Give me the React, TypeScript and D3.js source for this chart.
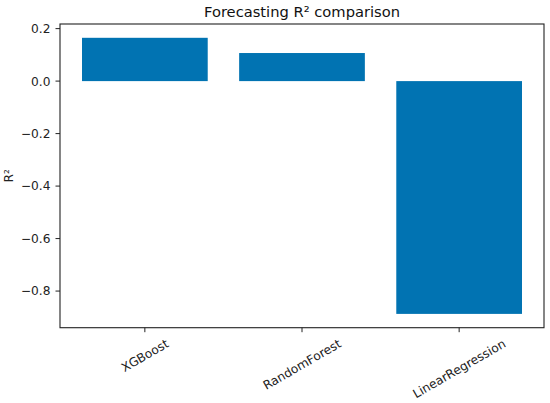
import * as d3 from "d3";

const WIDTH = 550;
const HEIGHT = 403;
const MARGIN = { top: 24, right: 6, bottom: 75.3, left: 60 };

const models = ["XGBoost", "RandomForest", "LinearRegression"];
const r2Values = [0.165, 0.107, -0.887];
const yTicks = [0.2, 0.0, -0.2, -0.4, -0.6, -0.8];

const BAR_COLOR = "#0173b2";
const FONT = "DejaVu Sans, sans-serif";
const TICK_SIZE = 12.2;

const measure = (text: string, size: number) => {
  const ctx = document.createElement("canvas").getContext("2d");
  if (!ctx) return text.length * size * 0.6;
  ctx.font = `${size}px DejaVu Sans`;
  return ctx.measureText(text).width;
};

const fmt = (v: number) => d3.format(".1f")(v).replace("-", "\u2212");

export default function App() {
  const boundsWidth = WIDTH - MARGIN.left - MARGIN.right;
  const boundsHeight = HEIGHT - MARGIN.top - MARGIN.bottom;

  // matplotlib style 5% margins
  const yMin = d3.min(r2Values)!;
  const yMax = d3.max(r2Values)!;
  const yPad = (yMax - yMin) * 0.05;
  const yScale = d3
    .scaleLinear()
    .domain([yMin - yPad, yMax + yPad])
    .range([boundsHeight, 0]);

  const barWidth = 0.8;
  const xPad = (models.length - 1 + barWidth) * 0.05;
  const xScale = d3
    .scaleLinear()
    .domain([-barWidth / 2 - xPad, models.length - 1 + barWidth / 2 + xPad])
    .range([0, boundsWidth]);

  const bars = models.map((m, i) => {
    const v = r2Values[i];
    const x0 = xScale(i - barWidth / 2);
    const x1 = xScale(i + barWidth / 2);
    const y0 = yScale(Math.max(0, v));
    const y1 = yScale(Math.min(0, v));
    return (
      <rect key={m} x={x0} y={y0} width={x1 - x0} height={y1 - y0} fill={BAR_COLOR} />
    );
  });

  const yAxis = yTicks.map((t) => (
    <g key={t} transform={`translate(0,${yScale(t)})`}>
      <line x1={-4.5} x2={0} stroke="#222" strokeWidth={1} />
      <text
        x={-9.5}
        dy="0.36em"
        textAnchor="end"
        fontSize={TICK_SIZE}
        fontFamily={FONT}
        fill="#222"
      >
        {fmt(t)}
      </text>
    </g>
  ));

  const angle = 30;
  const rad = (angle * Math.PI) / 180;
  const textH = TICK_SIZE * 1.17;
  const xAxis = models.map((m, i) => {
    const w = measure(m, TICK_SIZE);
    const bboxH = w * Math.sin(rad) + textH * Math.cos(rad);
    const cx = xScale(i);
    const cy = boundsHeight + 8.5 + bboxH / 2;
    return (
      <g key={m}>
        <line
          x1={cx}
          x2={cx}
          y1={boundsHeight}
          y2={boundsHeight + 4.5}
          stroke="#222"
          strokeWidth={1}
        />
        <text
          x={cx}
          y={cy}
          dy="0.36em"
          textAnchor="middle"
          fontSize={TICK_SIZE}
          fontFamily={FONT}
          fill="#222"
          transform={`rotate(${-angle},${cx},${cy})`}
        >
          {m}
        </text>
      </g>
    );
  });

  return (
    <div style={{ position: "absolute", left: 0, top: 0 }}>
      <svg width={WIDTH} height={HEIGHT} style={{ display: "block", background: "white" }}>
        <text
          x={MARGIN.left + boundsWidth / 2}
          y={17.3}
          textAnchor="middle"
          fontSize={14.7}
          fontFamily={FONT}
          fill="#111"
        >
          Forecasting R² comparison
        </text>
        <text
          transform={`translate(12.5,${MARGIN.top + boundsHeight / 2}) rotate(-90)`}
          textAnchor="middle"
          fontSize={TICK_SIZE}
          fontFamily={FONT}
          fill="#222"
        >
          R²
        </text>
        <g transform={`translate(${MARGIN.left},${MARGIN.top})`}>
          {bars}
          <rect
            x={0}
            y={0}
            width={boundsWidth}
            height={boundsHeight}
            fill="none"
            stroke="#222"
            strokeWidth={1.1}
          />
          {yAxis}
          {xAxis}
        </g>
      </svg>
    </div>
  );
}
